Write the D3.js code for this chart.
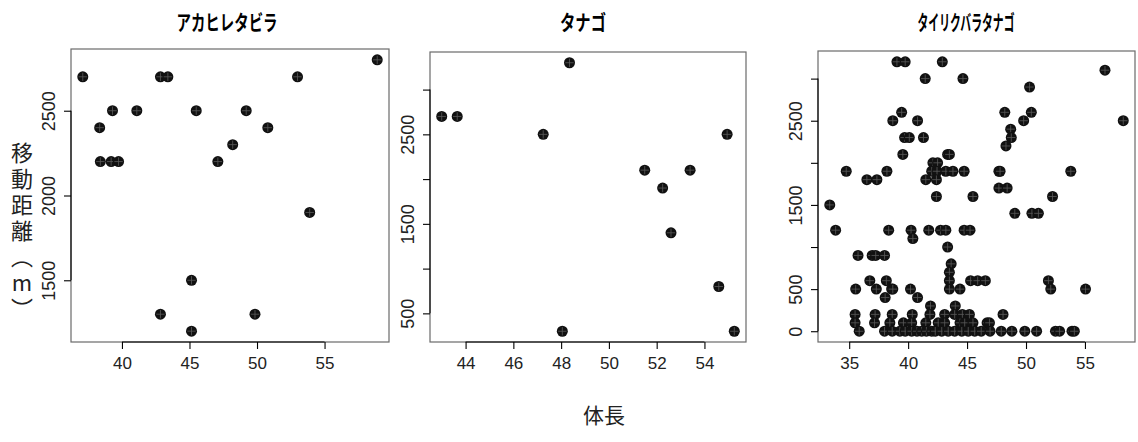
<!DOCTYPE html>
<html>
<head>
<meta charset="utf-8">
<script src="https://cdn.jsdelivr.net/npm/d3@7"></script>
<style>
  body { margin: 0; background: #fff; }
  svg { display: block; }
</style>
</head>
<body>
<svg id="chart" width="1138" height="442"></svg>
<script>
// Species titles
const titles = ["アカヒレタビラ", "タナゴ", "タイリクバラタナゴ"];

// アカヒレタビラ: body length (mm) and travel distance (m)
const akahireLength   = [37.1, 38.35, 39.3, 41.1, 38.4, 39.2, 39.75, 42.85, 43.4, 45.5, 47.1, 48.2, 49.2, 50.8, 53.0, 53.9, 58.9, 45.15, 42.85, 49.85, 45.15];
const akahireDistance = [2700, 2400, 2500, 2500, 2200, 2200, 2200, 2700, 2700, 2500, 2200, 2300, 2500, 2400, 2700, 1900, 2800, 1500, 1300, 1300, 1200];

// タナゴ
const tanagoLength   = [43.0, 43.65, 47.25, 48.35, 48.05, 51.5, 52.25, 52.6, 53.4, 54.95, 54.6, 55.25];
const tanagoDistance = [2700, 2700, 2500, 3300, 300, 2100, 1900, 1400, 2100, 2500, 800, 300];

// タイリクバラタナゴ: body lengths grouped by travel distance
const tairikuByDistance = [
  [3200, [39.05, 39.75, 42.9]],
  [3100, [56.7]],
  [3000, [41.45, 44.65]],
  [2900, [50.3]],
  [2600, [39.45, 48.2, 50.45]],
  [2500, [38.7, 40.8, 49.8, 58.25]],
  [2400, [48.7]],
  [2300, [39.7, 40.1, 41.3, 48.75]],
  [2200, [48.3]],
  [2100, [39.55, 43.35, 43.5]],
  [2000, [42.1, 42.5]],
  [1900, [34.75, 38.2, 42.0, 42.45, 43.2, 43.8, 44.75, 47.7, 47.8, 53.8]],
  [1800, [36.5, 37.35, 41.5, 42.4]],
  [1700, [47.7, 48.4]],
  [1600, [42.4, 45.5, 52.25]],
  [1500, [33.35]],
  [1400, [49.05, 50.5, 51.05]],
  [1200, [33.85, 38.35, 40.25, 41.75, 42.75, 43.2, 44.75, 45.25]],
  [1100, [40.4]],
  [1000, [43.35]],
  [900,  [35.75, 36.95, 37.25, 38.0]],
  [800,  [43.65]],
  [700,  [43.5]],
  [600,  [36.75, 38.15, 43.5, 45.3, 45.9, 46.55, 51.9]],
  [500,  [35.55, 37.3, 38.6, 38.7, 40.2, 43.5, 44.4, 52.1, 55.05]],
  [400,  [38.05, 40.8]],
  [300,  [41.9, 44.0]],
  [200,  [35.5, 37.2, 38.65, 40.35, 41.85, 43.1, 43.95, 44.6, 45.2, 48.05]],
  [100,  [35.5, 37.15, 38.45, 39.6, 40.3, 41.5, 42.55, 43.1, 44.4, 44.8, 45.5, 46.7, 46.9]],
  [0,    [35.85, 38.0, 38.65, 39.3, 39.75, 40.3, 40.75, 41.15, 41.55, 42.0, 42.3, 42.85, 43.4,
          43.95, 44.55, 45.1, 45.65, 46.2, 46.95, 47.9, 48.8, 49.9, 50.9, 52.5, 52.85, 53.9, 54.1]]
];
const tairikuLength = tairikuByDistance.flatMap(([d, ls]) => ls);
const tairikuDistance = tairikuByDistance.flatMap(([d, ls]) => ls.map(() => d));

// Axis ticks and the tick labels that are printed
const xTicks = [[40, 45, 50, 55], [44, 46, 48, 50, 52, 54], [35, 40, 45, 50, 55]];
const yTicks = [[1500, 2000, 2500], [500, 1000, 1500, 2000, 2500, 3000], [0, 500, 1000, 1500, 2000, 2500, 3000]];
const yTickLabels = [[1500, 2000, 2500], [500, 1500, 2500], [0, 500, 1500, 2500]];

// Axis titles: the y title is split so that the unit letter stays upright
const yTitleParts = ["移動距離（", "m", "）"];
const xTitle = "体長";

// Plot frames for the three panels
const frames = [
  { left: 71,  right: 389,  top: 49, bottom: 342 },
  { left: 430, right: 746,  top: 52, bottom: 342 },
  { left: 818, right: 1135, top: 51, bottom: 342 }
];
const titleCenters = [227, 583, 966];
const titleWidths = [101, 46, 97];

const seriesX = [akahireLength, tanagoLength, tairikuLength];
const seriesY = [akahireDistance, tanagoDistance, tairikuDistance];

const svg = d3.select("#chart");
svg.append("rect").attr("width", 1138).attr("height", 442).attr("fill", "#fff");

// extent padded by 4% on each side
function padded(values) {
  const [lo, hi] = d3.extent(values);
  const p = (hi - lo) * 0.04;
  return [lo - p, hi + p];
}

const tickFont = "'Liberation Sans', Arial, sans-serif";
const cjk = "'Noto Sans CJK JP', sans-serif";

frames.forEach((f, i) => {
  const x = d3.scaleLinear().domain(padded(seriesX[i])).range([f.left, f.right]);
  const y = d3.scaleLinear().domain(padded(seriesY[i])).range([f.bottom, f.top]);
  const g = svg.append("g");

  // frame
  g.append("rect")
    .attr("x", f.left).attr("y", f.top)
    .attr("width", f.right - f.left).attr("height", f.bottom - f.top)
    .attr("fill", "none").attr("stroke", "#6a6a6a").attr("stroke-width", 1.2);

  // bottom axis
  const xa = g.append("g").attr("transform", `translate(0,${f.bottom})`)
    .call(d3.axisBottom(x).tickValues(xTicks[i]).tickSize(7).tickPadding(8).tickFormat(d3.format("d")));
  xa.select(".domain").remove();
  xa.selectAll(".tick line").attr("stroke", "#000").attr("stroke-width", 1.1);
  xa.selectAll(".tick text").attr("font-family", tickFont).attr("font-size", 17).attr("fill", "#222");
  xa.append("line")
    .attr("x1", x(xTicks[i][0])).attr("x2", x(xTicks[i][xTicks[i].length - 1]))
    .attr("stroke", "#000").attr("stroke-width", 1.1);

  // left axis with rotated labels
  const labelSet = new Set(yTickLabels[i]);
  const ya = g.append("g").attr("transform", `translate(${f.left},0)`)
    .call(d3.axisLeft(y).tickValues(yTicks[i]).tickSize(7)
      .tickFormat(d => labelSet.has(d) ? d3.format("d")(d) : ""));
  ya.select(".domain").remove();
  ya.selectAll(".tick line").attr("stroke", "#000").attr("stroke-width", 1.1);
  ya.selectAll(".tick text")
    .attr("font-family", tickFont).attr("font-size", 18).attr("fill", "#222")
    .attr("transform", "rotate(-90)")
    .attr("x", 0).attr("y", -16).attr("dy", 0)
    .attr("text-anchor", "middle");
  ya.append("line")
    .attr("y1", y(yTicks[i][0])).attr("y2", y(yTicks[i][yTicks[i].length - 1]))
    .attr("stroke", "#000").attr("stroke-width", 1.1);

  // points: filled disc with a light cross
  const pts = seriesX[i].map((v, k) => [v, seriesY[i][k]]);
  const pg = g.append("g").selectAll("g").data(pts).join("g")
    .attr("transform", d => `translate(${x(d[0])},${y(d[1])})`);
  pg.append("circle").attr("r", 5.5).attr("fill", "#111");
  pg.append("path").attr("d", "M-4.2,0H4.2M0,-4.2V4.2")
    .attr("stroke", "#5a5a5a").attr("stroke-width", 0.8);

  // panel title
  svg.append("text")
    .attr("x", titleCenters[i]).attr("y", 30)
    .attr("text-anchor", "middle")
    .attr("font-family", cjk)
    .attr("font-weight", "bold").attr("font-size", 21)
    .attr("textLength", titleWidths[i]).attr("lengthAdjust", "spacingAndGlyphs")
    .text(titles[i]);
});

// vertical y-axis title
const yt = svg.append("text")
  .attr("x", 22).attr("y", 142)
  .style("writing-mode", "vertical-rl")
  .style("text-orientation", "mixed")
  .attr("font-family", cjk).attr("font-size", 22).attr("fill", "#222")
  .attr("letter-spacing", 4);
yt.append("tspan").text(yTitleParts[0]);
yt.append("tspan").style("text-orientation", "upright").text(yTitleParts[1]);
yt.append("tspan").text(yTitleParts[2]);

// x-axis title
svg.append("text")
  .attr("x", 604).attr("y", 423)
  .attr("text-anchor", "middle")
  .attr("font-family", cjk).attr("font-size", 21).attr("fill", "#222")
  .text(xTitle);
</script>
</body>
</html>
